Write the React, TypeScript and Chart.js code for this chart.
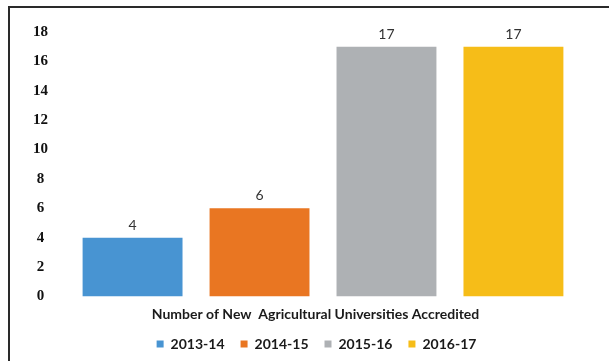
import React, { useEffect, useRef } from "react";
import { Chart, registerables } from "chart.js";

Chart.register(...registerables);

const categories = ["Number of New  Agricultural Universities Accredited"];
const seriesNames = ["2013-14", "2014-15", "2015-16", "2016-17"];
const seriesValues = [[4], [6], [17], [17]];
const seriesColors = ["#4894D2", "#E97622", "#AEB1B4", "#F6BD18"];
const yTicks = [0, 2, 4, 6, 8, 10, 12, 14, 16, 18];

const valueLabels = {
  id: "valueLabels",
  afterDatasetsDraw(chart: any) {
    const ctx = chart.ctx;
    ctx.save();
    ctx.font = "14px Lato";
    ctx.fillStyle = "#333333";
    ctx.textAlign = "center";
    ctx.textBaseline = "alphabetic";
    chart.data.datasets.forEach((ds: any, i: number) => {
      const meta = chart.getDatasetMeta(i);
      meta.data.forEach((bar: any, j: number) => {
        ctx.fillText(String(ds.data[j]), bar.x, bar.y - 8);
      });
    });
    ctx.restore();
  },
};

export default function App() {
  const ref = useRef<HTMLCanvasElement>(null);
  useEffect(() => {
    if (!ref.current) return;
    const chart = new Chart(ref.current, {
      type: "bar",
      data: {
        labels: categories,
        datasets: seriesNames.map((name, i) => ({
          label: name,
          data: seriesValues[i],
          backgroundColor: seriesColors[i],
          borderWidth: 0,
          categoryPercentage: 0.951,
          barPercentage: 0.787,
        })),
      },
      options: {
        animation: false,
        responsive: false,
        maintainAspectRatio: false,
        layout: { padding: { left: 24, right: 0, top: 32, bottom: 0 } },
        plugins: {
          tooltip: { enabled: false },
          legend: {
            position: "bottom",
            labels: {
              boxWidth: 7,
              boxHeight: 7,
              padding: 16,
              color: "#1a1a1a",
              font: { family: "Lato", size: 14, weight: "bold" },
            },
          },
        },
        scales: {
          x: {
            afterFit: (s: any) => {
              s.height = 24.5;
            },
            grid: { display: false, drawTicks: false },
            border: { display: false },
            ticks: {
              color: "#1a1a1a",
              padding: 10.5,
              labelOffset: -7.5,
              font: { family: "Lato", size: 14, weight: "bold", lineHeight: 1 },
            },
          },
          y: {
            min: 0,
            max: 18,
            afterBuildTicks: (s: any) => {
              s.ticks = yTicks.map((v) => ({ value: v }));
            },
            afterFit: (s: any) => {
              s.width = 32;
            },
            grid: { display: false, drawTicks: false },
            border: { display: false },
            ticks: {
              color: "#111111",
              padding: 8,
              crossAlign: "center",
              font: { family: "Liberation Serif", size: 15, weight: "bold" },
            },
          },
          y2: {
            position: "right",
            display: true,
            afterFit: (s: any) => {
              s.width = 19;
            },
            grid: { display: false, drawTicks: false },
            border: { display: false },
            ticks: { display: false },
          },
        },
      },
      plugins: [valueLabels],
    });
    return () => chart.destroy();
  }, []);
  return (
    <div style={{ position: "absolute", left: 0, top: 0, width: 609, height: 361, background: "#fff" }}>
      <div
        style={{
          position: "absolute",
          left: 8,
          top: 6,
          width: 601,
          height: 355,
          borderTop: "2px solid #2a2a2a",
          borderLeft: "2px solid #2a2a2a",
          boxSizing: "border-box",
        }}
      />
      <canvas ref={ref} width={609} height={361} style={{ position: "absolute", left: 0, top: 0 }} />
    </div>
  );
}
